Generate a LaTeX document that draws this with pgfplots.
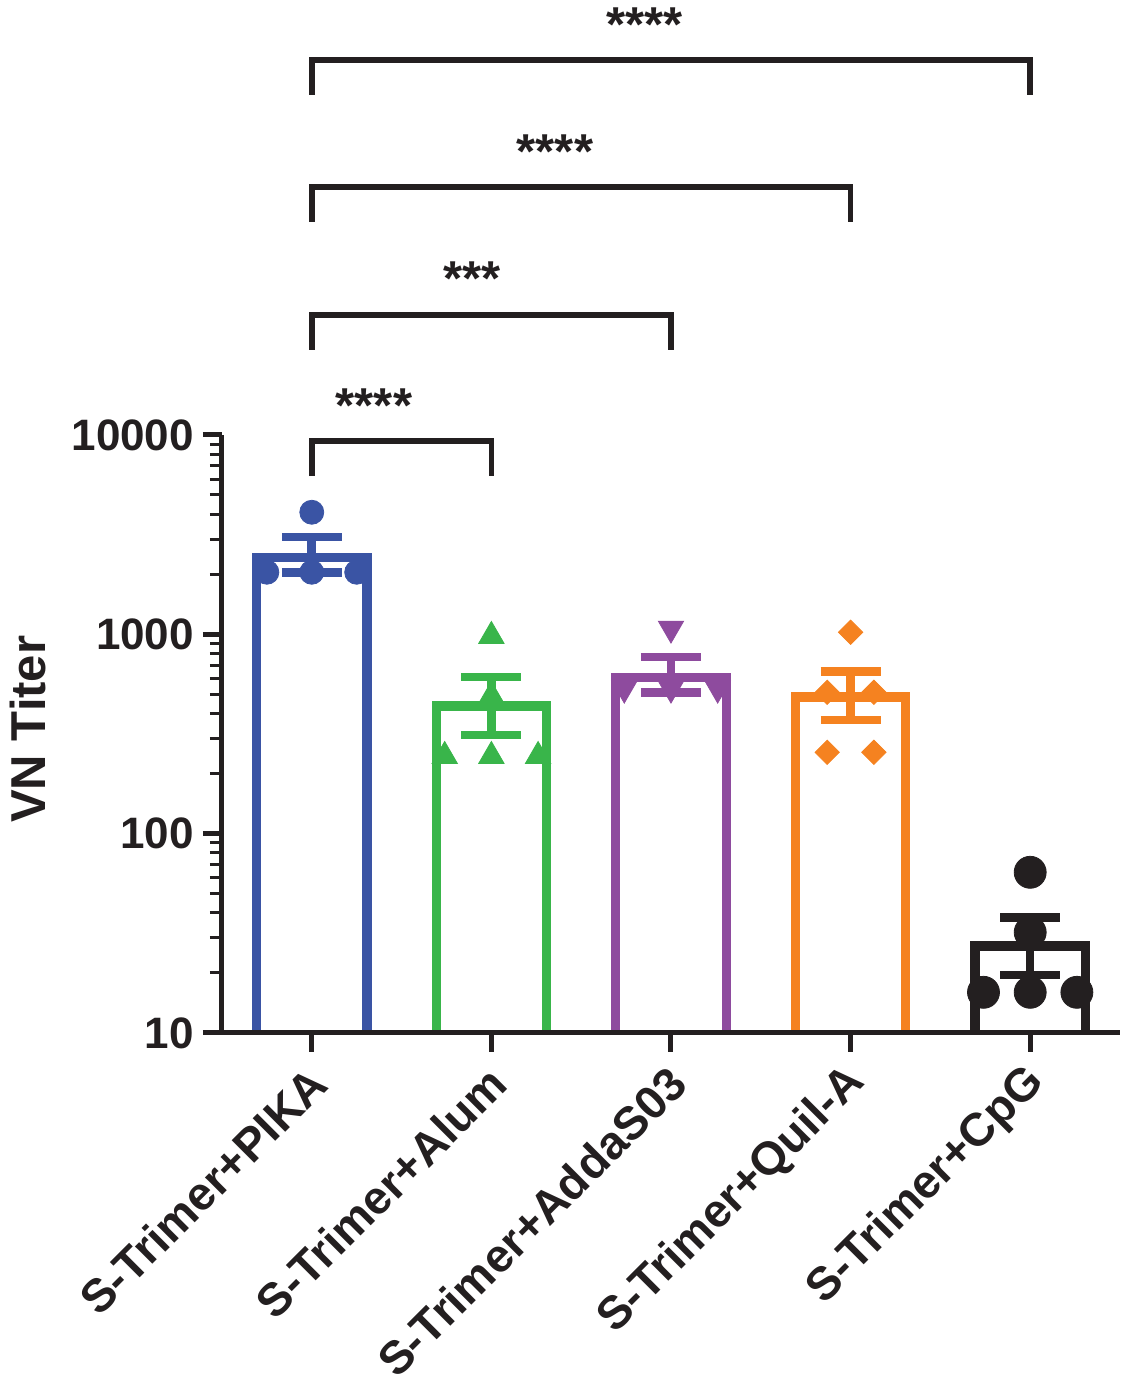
\documentclass[border=0pt]{standalone}
\usepackage{fontspec}
\setmainfont{Liberation Sans}
\usepackage{pgfplots}
\pgfplotsset{compat=1.18}
\definecolor{pikablue}{RGB}{58,84,164}
\definecolor{alumgreen}{RGB}{57,181,74}
\definecolor{addapurple}{RGB}{142,75,158}
\definecolor{quilorange}{RGB}{245,130,32}
\definecolor{inkblack}{RGB}{35,31,32}
\newcommand{\lbl}{\fontsize{22}{26}\selectfont\bfseries}
\newcommand{\xlbl}{\fontsize{23.2}{27}\selectfont\bfseries}
\newcommand{\biglbl}{\fontsize{24.5}{29}\selectfont\bfseries}

\begin{document}
\begin{tikzpicture}
\begin{axis}[
    scale only axis,
    width=449pt, height=299pt,
    xmin=-0.5, xmax=4.5,
    ymode=log, ymin=10, ymax=10000,
    axis x line*=bottom, axis y line*=left,
    axis line style={line width=2.5pt, inkblack, -},
    xtick={0,1,2,3,4},
    xticklabels={S-Trimer+PIKA,S-Trimer+Alum,S-Trimer+AddaS03,S-Trimer+Quil-A,S-Trimer+CpG},
    ytick={10,100,1000,10000},
    yticklabels={10,100,1000,10000},
    minor ytick={20,30,40,50,60,70,80,90,200,300,400,500,600,700,800,900,2000,3000,4000,5000,6000,7000,8000,9000},
    tick align=outside,
    major tick length=9.5pt, minor tick length=6pt,
    every major tick/.append style={line width=2.5pt, inkblack},
    every minor tick/.append style={line width=1.5pt, inkblack},
    tick label style={font=\lbl, text=inkblack},
    yticklabel style={xshift=-1pt},
    xticklabel style={font=\xlbl, xshift=6pt, yshift=-9.3pt, rotate=45, anchor=east},
    ylabel={VN Titer},
    ylabel style={at={(axis description cs:-0.216,0.508)}, anchor=center, font=\biglbl, text=inkblack},
    unbounded coords=jump,
    clip=false, axis on top,
]
% open bars (top edge line centre, a little under the group mean)
\pgfplotsset{openbar/.style={#1, line width=4.6pt, line join=miter, mark=none}}
\addplot[openbar=pikablue] coordinates {(-0.3077,10) (-0.3077,2427) (0.3077,2427) (0.3077,10)};
\addplot[openbar=alumgreen] coordinates {(0.6923,10) (0.6923,437) (1.3077,437) (1.3077,10)};
\addplot[openbar=addapurple] coordinates {(1.6923,10) (1.6923,607) (2.3077,607) (2.3077,10)};
\addplot[openbar=quilorange] coordinates {(2.6923,10) (2.6923,485) (3.3077,485) (3.3077,10)};
\addplot[openbar=inkblack] coordinates {(3.6923,10) (3.6923,27.3) (4.3077,27.3) (4.3077,10)};

% mean +- SEM: stem, upper cap, lower cap
\pgfplotsset{sem/.style={#1, line width=4.3pt, mark=none}}
\addplot[sem=pikablue] coordinates {(0,2048) (0,3072) (nan,nan) (-0.167,3072) (0.167,3072) (nan,nan) (-0.167,2048) (0.167,2048)};
\addplot[sem=alumgreen] coordinates {(1,312) (1,610) (nan,nan) (0.833,610) (1.167,610) (nan,nan) (0.833,312) (1.167,312)};
\addplot[sem=addapurple] coordinates {(2,512) (2,768) (nan,nan) (1.833,768) (2.167,768) (nan,nan) (1.833,512) (2.167,512)};
\addplot[sem=quilorange] coordinates {(3,372) (3,652) (nan,nan) (2.833,652) (3.167,652) (nan,nan) (2.833,372) (3.167,372)};
\addplot[sem=inkblack] coordinates {(4,19.5) (4,38.1) (nan,nan) (3.833,38.1) (4.167,38.1) (nan,nan) (3.833,19.5) (4.167,19.5)};

% individual animals
\addplot[pikablue, only marks, mark=*, mark size=6pt]
    coordinates {(0,4096) (-0.25,2048) (0,2048) (0.25,2048)};
\addplot[alumgreen, only marks, mark=triangle*, mark size=7.3pt, mark options={yshift=-1.9pt}]
    coordinates {(1,1024) (1,512) (0.74,256) (1,256) (1.26,256)};
\addplot[addapurple, only marks, mark=triangle*, mark size=7.3pt, mark options={yshift=1.9pt, rotate=180}]
    coordinates {(2,1024) (1.74,512) (2,512) (2.26,512)};
\addplot[quilorange, only marks, mark=square*, mark size=4.3pt, mark options={rotate=45}]
    coordinates {(3,1024) (2.87,512) (3.13,512) (2.87,256) (3.13,256)};
\addplot[inkblack, only marks, mark=*, mark size=8pt]
    coordinates {(4,64) (4,32) (3.74,16) (4,16) (4.26,16)};

% x axis runs a little past the y axis
\draw[inkblack, line width=2.5pt] (rel axis cs:0,0) -- (rel axis cs:-0.0189,0);

% significance brackets
\tikzset{brk/.style={inkblack, line width=2.8pt, line join=miter}}
\draw[brk] (rel axis cs:0.1,0.9314) -- (rel axis cs:0.1,0.9900) -- (rel axis cs:0.3,0.9900) -- (rel axis cs:0.3,0.9314);
\draw[brk] (rel axis cs:0.1,1.1421) -- (rel axis cs:0.1,1.2007) -- (rel axis cs:0.5,1.2007) -- (rel axis cs:0.5,1.1421);
\draw[brk] (rel axis cs:0.1,1.3562) -- (rel axis cs:0.1,1.4147) -- (rel axis cs:0.7,1.4147) -- (rel axis cs:0.7,1.3562);
\draw[brk] (rel axis cs:0.1,1.5686) -- (rel axis cs:0.1,1.6271) -- (rel axis cs:0.9,1.6271) -- (rel axis cs:0.9,1.5686);
\tikzset{stars/.style={anchor=base, inner sep=0pt, font=\biglbl, text=inkblack}}
\node[stars] at (rel axis cs:0.1693,1.0201) {****};
\node[stars] at (rel axis cs:0.2784,1.2335) {***};
\node[stars] at (rel axis cs:0.3708,1.4458) {****};
\node[stars] at (rel axis cs:0.4710,1.6582) {****};

\coordinate (bbl) at (rel axis cs:-0.2472,-0.6020);
\coordinate (btr) at (rel axis cs:1.0033,1.7274);
\end{axis}
\path (bbl) rectangle (btr);
\end{tikzpicture}
\end{document}
